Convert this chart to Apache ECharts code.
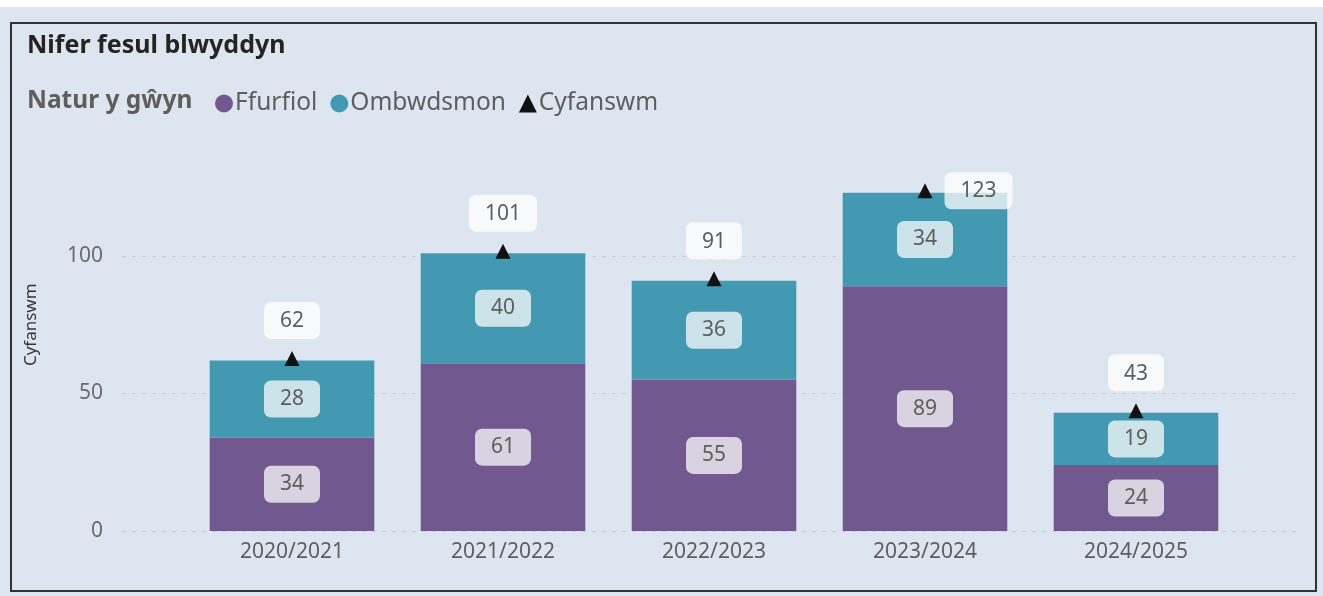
<!DOCTYPE html>
<html>
<head>
<meta charset="utf-8">
<script src="https://cdn.jsdelivr.net/npm/echarts@6/dist/echarts.min.js"></script>
<style>
  html, body { margin: 0; padding: 0; background: #dde6f0; }
  #chart { width: 1323px; height: 596px; }
</style>
</head>
<body>
<div id="chart"></div>
<script>
const years = ["2020/2021", "2021/2022", "2022/2023", "2023/2024", "2024/2025"];
const ffurfiol = [34, 61, 55, 89, 24];
const ombwdsmon = [28, 40, 36, 34, 19];
const cyfanswm = [62, 101, 91, 123, 43];
const yTicks = [0, 50, 100];

const font = "'Noto Sans', 'Open Sans', sans-serif";
const grey = "#605e5c";

const segLabel = {
  show: true,
  position: "inside",
  color: grey,
  fontSize: 21,
  fontFamily: font,
  backgroundColor: "rgba(255,255,255,0.73)",
  padding: [9, 16, 7, 16],
  borderRadius: 7,
};

const chart = echarts.init(document.getElementById("chart"));
const option = {
  animation: false,
  textStyle: { fontFamily: font },
  title: [
    {
      text: "Nifer fesul blwyddyn",
      left: 22, top: 28,
      textStyle: { fontSize: 25, fontWeight: "bold", color: "#252423", fontFamily: font },
    },
    {
      text: "Natur y gŵyn",
      left: 22, top: 84,
      textStyle: { fontSize: 24.5, fontWeight: "bold", color: grey, fontFamily: font },
    },
  ],
  legend: {
    left: 210, top: 86,
    itemWidth: 18, itemHeight: 18, itemGap: 13,
    textStyle: { fontSize: 24.5, color: grey, fontFamily: font, padding: [0, 0, 0, -3] },
    data: [
      { name: "Ffurfiol", icon: "circle" },
      { name: "Ombwdsmon", icon: "circle" },
      { name: "Cyfanswm", icon: "triangle" },
    ],
  },
  graphic: [
    { type: "rect", shape: { x: 0, y: 0, width: 1323, height: 7 }, style: { fill: "#fff" }, silent: true },
    {
      type: "rect", shape: { x: 11, y: 23, width: 1305, height: 568 },
      style: { fill: "none", stroke: "#333", lineWidth: 2 }, silent: true, z: 100,
    },
  ],
  grid: [
    { left: 122, right: 22, top: 118.5, bottom: 65 },
    { left: 186.5, right: 81.5, top: 118.5, bottom: 65 },
  ],
  xAxis: [
    { gridIndex: 0, type: "value", show: false, min: 0, max: 1 },
    {
      gridIndex: 1, type: "category", data: years,
      axisLine: { show: false }, axisTick: { show: false },
      axisLabel: { fontSize: 21, color: grey, margin: 11, fontFamily: font },
    },
  ],
  yAxis: [
    {
      gridIndex: 0, type: "value", min: 0, max: 150, interval: 50,
      name: "Cyfanswm", nameLocation: "middle", nameGap: 82,
      nameTextStyle: { fontSize: 17, color: "#333", fontFamily: font },
      axisLine: { show: false }, axisTick: { show: false },
      axisLabel: {
        fontSize: 21, color: "#6b6b6b", margin: 19, fontFamily: font, showMaxLabel: false,
        formatter: (v) => (yTicks.includes(v) ? String(v) : ""),
      },
      splitLine: { showMaxLine: false, lineStyle: { color: "#c9ced4", type: [4, 6], width: 1 } },
    },
    { gridIndex: 1, type: "value", min: 0, max: 150, interval: 50, show: false, splitLine: { show: false } },
  ],
  series: [
    {
      name: "Ffurfiol", type: "bar", stack: "all", xAxisIndex: 1, yAxisIndex: 1,
      barWidth: "78%", itemStyle: { color: "#71588f" }, label: segLabel, data: ffurfiol,
    },
    {
      name: "Ombwdsmon", type: "bar", stack: "all", xAxisIndex: 1, yAxisIndex: 1,
      barWidth: "78%", itemStyle: { color: "#4399b1" }, label: segLabel, data: ombwdsmon,
    },
    {
      name: "Cyfanswm", type: "line", xAxisIndex: 1, yAxisIndex: 1,
      symbol: "triangle", symbolSize: 15, symbolOffset: [0, -2],
      lineStyle: { opacity: 0 }, itemStyle: { color: "#111" },
      label: {
        show: true, position: "top", distance: 12,
        color: grey, fontSize: 21, fontFamily: font,
        backgroundColor: "rgba(255,255,255,0.75)",
        padding: [9, 16, 7, 16], borderRadius: 7,
      },
      data: cyfanswm.map((v, i) =>
        i === 3 ? { value: v, label: { position: "right", distance: 12 } } : v
      ),
      z: 5,
    },
  ],
};
chart.setOption(option);
</script>
</body>
</html>
